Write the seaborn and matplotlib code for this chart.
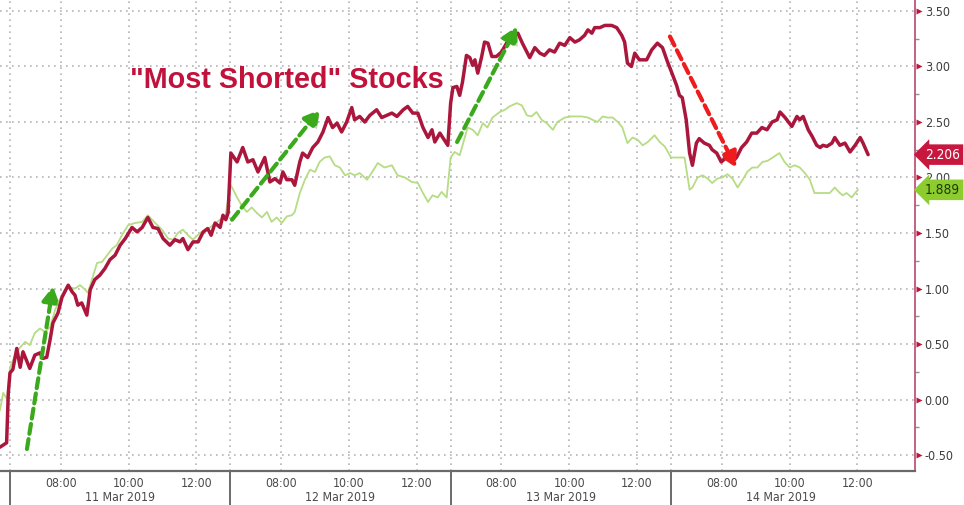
import matplotlib
matplotlib.use("Agg")
import matplotlib.pyplot as plt
import matplotlib.transforms as mtransforms
import matplotlib.patheffects as pe
import numpy as np
import pandas as pd
import seaborn as sns

# ---------------- data ----------------
days = ["11 Mar 2019", "12 Mar 2019", "13 Mar 2019", "14 Mar 2019"]
hour_labels = ["08:00", "10:00", "12:00"]
y_ticks = [-0.50, 0.00, 0.50, 1.00, 1.50, 2.00, 2.50, 3.00, 3.50]
title = '"Most Shorted" Stocks'
last_red = 2.206
last_green = 1.889

red_d1_t = ["06:12","06:24","06:27","06:30","06:35","06:42","06:48","06:53","07:05","07:14","07:23","07:28","07:35","07:41","07:46","07:55","08:02","08:13","08:20","08:25","08:30","08:37","08:46","08:52","09:00","09:09","09:18","09:27","09:36","09:45","09:54","10:06","10:15","10:24","10:34","10:43","10:52","11:01","11:13","11:22","11:31","11:36","11:45","11:54","12:03","12:12","12:20","12:26","12:33","12:42","12:47","12:52","12:56"]
red_d1_v = [-0.43,-0.39,0.06,0.24,0.27,0.46,0.29,0.43,0.28,0.40,0.42,0.37,0.38,0.54,0.69,0.78,0.92,1.03,0.97,0.94,0.85,0.87,0.76,0.99,1.08,1.12,1.18,1.26,1.30,1.39,1.45,1.55,1.51,1.55,1.64,1.55,1.54,1.45,1.39,1.44,1.42,1.45,1.35,1.42,1.42,1.51,1.54,1.48,1.59,1.55,1.66,1.62,1.68]

red_d2_t = ["06:31","06:42","06:52","07:01","07:10","07:19","07:31","07:40","07:49","07:58","08:03","08:10","08:19","08:24","08:33","08:38","08:47","08:56","09:05","09:14","09:23","09:31","09:39","09:47","09:56","10:05","10:10","10:19","10:28","10:37","10:49","10:58","11:07","11:16","11:25","11:36","11:44","11:53","12:02","12:11","12:20","12:27","12:32","12:41","12:46","12:55"]
red_d2_v = [2.22,2.14,2.27,2.14,2.16,2.05,2.18,1.96,1.99,1.95,2.05,1.98,1.98,1.93,2.14,2.22,2.18,2.27,2.32,2.41,2.54,2.45,2.49,2.41,2.50,2.63,2.52,2.55,2.50,2.56,2.61,2.54,2.56,2.58,2.55,2.61,2.64,2.58,2.58,2.45,2.36,2.43,2.32,2.40,2.36,2.29]

red_d3_t = ["06:30","06:34","06:41","06:46","06:51","06:58","07:04","07:09","07:13","07:18","07:25","07:30","07:36","07:43","07:51","08:00","08:09","08:18","08:29","08:37","08:45","08:50","08:59","09:08","09:16","09:25","09:34","09:43","09:52","10:01","10:10","10:18","10:27","10:33","10:40","10:45","10:54","11:03","11:15","11:24","11:33","11:38","11:43","11:50","11:56","12:04","12:17","12:26","12:36","12:45","12:54"]
red_d3_v = [2.67,2.81,2.82,2.74,2.86,3.10,3.08,3.01,3.06,2.94,3.09,3.22,3.21,3.09,3.09,3.13,3.21,3.26,3.30,3.21,3.13,3.08,3.17,3.12,3.10,3.15,3.13,3.21,3.19,3.26,3.22,3.24,3.28,3.33,3.30,3.35,3.35,3.37,3.37,3.35,3.28,3.22,3.03,3.00,3.12,3.06,3.06,3.15,3.21,3.17,3.04]

red_d4_t = ["06:31","06:40","06:45","06:50","06:57","07:03","07:08","07:15","07:20","07:29","07:38","07:43","07:51","07:59","08:08","08:17","08:26","08:35","08:44","08:53","09:02","09:11","09:20","09:29","09:38","09:43","09:52","10:04","10:13","10:18","10:24","10:33","10:40","10:48","10:54","10:59","11:06","11:15","11:20","11:29","11:38","11:47","11:56","12:05","12:10","12:19"]
red_d4_v = [2.95,2.83,2.74,2.72,2.52,2.22,2.11,2.31,2.35,2.31,2.29,2.25,2.22,2.14,2.18,2.14,2.18,2.27,2.32,2.40,2.40,2.45,2.43,2.50,2.52,2.59,2.54,2.46,2.55,2.52,2.55,2.43,2.37,2.29,2.27,2.29,2.28,2.31,2.36,2.29,2.31,2.23,2.29,2.36,2.31,2.206]

green_d1_t = ["06:12","06:18","06:25","06:30","06:39","06:48","06:57","07:05","07:14","07:23","07:32","07:41","07:50","07:58","08:07","08:16","08:25","08:34","08:43","08:48","08:55","09:04","09:13","09:22","09:31","09:39","09:48","09:59","10:11","10:24","10:34","10:47","10:59","11:10","11:19","11:27","11:36","11:45","11:54","12:06","12:19","12:29","12:42","12:51","12:56"]
green_d1_v = [-0.10,0.06,0.00,0.29,0.40,0.47,0.52,0.49,0.60,0.64,0.61,0.65,0.81,0.90,0.99,1.01,1.00,1.03,0.99,0.96,1.08,1.23,1.24,1.30,1.36,1.39,1.48,1.57,1.59,1.60,1.66,1.59,1.53,1.45,1.44,1.50,1.53,1.48,1.44,1.50,1.53,1.57,1.62,1.64,1.80]

green_d2_t = ["06:31","06:42","06:50","06:59","07:08","07:17","07:26","07:35","07:43","07:52","08:01","08:10","08:19","08:24","08:33","08:42","08:51","09:00","09:08","09:17","09:26","09:35","09:44","09:53","10:02","10:10","10:19","10:32","10:40","10:51","11:03","11:16","11:26","11:39","11:51","12:02","12:11","12:20","12:28","12:37","12:44","12:53"]
green_d2_v = [1.93,1.82,1.75,1.69,1.73,1.68,1.64,1.69,1.60,1.64,1.59,1.65,1.66,1.69,1.86,1.98,2.07,2.05,2.14,2.18,2.19,2.11,2.09,2.02,2.04,2.02,2.04,1.98,2.04,2.13,2.09,2.11,2.02,2.00,1.96,1.95,1.86,1.78,1.84,1.82,1.87,1.82]

green_d3_t = ["06:30","06:37","06:46","06:55","07:00","07:09","07:18","07:27","07:35","07:44","07:57","08:06","08:14","08:27","08:36","08:45","08:53","09:02","09:11","09:20","09:31","09:39","09:52","10:04","10:13","10:22","10:33","10:41","10:50","10:59","11:08","11:17","11:26","11:34","11:43","11:52","12:01","12:10","12:19","12:31","12:40","12:49","12:58"]
green_d3_v = [2.18,2.23,2.20,2.36,2.45,2.43,2.38,2.49,2.45,2.54,2.59,2.61,2.64,2.67,2.65,2.56,2.55,2.59,2.52,2.49,2.43,2.50,2.54,2.55,2.55,2.55,2.54,2.52,2.50,2.55,2.54,2.54,2.50,2.45,2.31,2.36,2.34,2.29,2.32,2.38,2.32,2.28,2.20]

green_d4_t = ["06:30","06:45","06:54","07:03","07:08","07:17","07:26","07:35","07:43","07:52","08:01","08:10","08:19","08:28","08:37","08:45","08:54","09:03","09:12","09:21","09:30","09:42","09:51","10:00","10:09","10:18","10:27","10:36","10:44","10:53","11:02","11:11","11:20","11:29","11:34","11:41","11:50","11:56","12:01"]
green_d4_v = [2.18,2.18,2.18,1.89,1.91,2.00,2.02,1.99,1.95,1.99,2.00,2.03,1.99,1.91,1.98,2.05,2.09,2.09,2.14,2.15,2.18,2.22,2.14,2.09,2.11,2.09,2.04,1.98,1.86,1.86,1.86,1.86,1.91,1.86,1.84,1.86,1.82,1.86,1.889]

# ---------------- helpers ----------------
OPEN_H, SESSION_H = 6.5, 6.5   # 06:30 - 13:00 session, compressed axis


def sess_x(day_idx, hhmm):
    h, m = hhmm.split(":")
    return day_idx * SESSION_H + (int(h) + int(m) / 60.0 - OPEN_H)


def build(name, parts):
    rows = []
    for d, (ts, vs) in enumerate(parts):
        assert len(ts) == len(vs), (name, d, len(ts), len(vs))
        for t, v in zip(ts, vs):
            rows.append({"x": sess_x(d, t), "value": v, "series": name})
    return pd.DataFrame(rows)


red_df = build("red", [(red_d1_t, red_d1_v), (red_d2_t, red_d2_v),
                       (red_d3_t, red_d3_v), (red_d4_t, red_d4_v)])
green_df = build("green", [(green_d1_t, green_d1_v), (green_d2_t, green_d2_v),
                           (green_d3_t, green_d3_v), (green_d4_t, green_d4_v)])

# ---------------- style ----------------
sns.set_theme(style="white")
plt.rcParams["font.family"] = ["DejaVu Sans"]

RED = "#ab173c"
GREEN = "#b6dc84"
GRID = "#b4b4b4"
AXIS_GREY = "#6a6a6a"

fig = plt.figure(figsize=(9.64, 5.05), dpi=100)
W, H = 964, 505
ax = fig.add_axes([0, 34 / H, 915 / W, 471 / H])

XMIN, XMAX = -0.295, 26.70
YMIN, YMAX = -0.644, 3.599
ax.set_xlim(XMIN, XMAX)
ax.set_ylim(YMIN, YMAX)

# grid (dotted)
grid_kw = dict(color=GRID, lw=1.2, linestyle=(0, (1.0, 2.6)), zorder=0)
for yv in y_ticks:
    ax.axhline(yv, **grid_kw)
for d in range(len(days)):
    ax.axvline(d * SESSION_H, **grid_kw)
    for hl in hour_labels:
        ax.axvline(sess_x(d, hl), **grid_kw)

# series
sns.lineplot(data=green_df, x="x", y="value", ax=ax, color=GREEN, lw=1.3,
             estimator=None, sort=False, zorder=3)
sns.lineplot(data=red_df, x="x", y="value", ax=ax, color=RED, lw=2.5,
             estimator=None, sort=False, zorder=4)
ax.set_xlabel("")
ax.set_ylabel("")

# spines
for s in ["top", "left"]:
    ax.spines[s].set_visible(False)
ax.spines["bottom"].set_color(AXIS_GREY)
ax.spines["bottom"].set_linewidth(1.6)
ax.spines["right"].set_color("#b8486e")
ax.spines["right"].set_linewidth(1.2)

# x ticks: every hour, labels at 08/10/12
tick_pos, tick_lab = [], []
for d in range(len(days)):
    for h in range(7, 13):
        hh = f"{h:02d}:00"
        tick_pos.append(sess_x(d, hh))
        tick_lab.append(hh if hh in hour_labels else "")
tick_pos.append(sess_x(len(days) - 1, "13:00"))
tick_lab.append("")
ax.set_xticks(tick_pos)
ax.set_xticklabels(tick_lab)
ax.tick_params(axis="x", direction="out", length=3, width=1.2, color=AXIS_GREY,
               pad=1.2, labelsize=8.8, labelcolor="#4a4a4a")
for lab in ax.get_xticklabels():
    lab.set_fontstretch("condensed")

# day separators and date labels below the axis
bt = mtransforms.blended_transform_factory(ax.transData, ax.transAxes)
for d, name in enumerate(days):
    ax.plot([d * SESSION_H, d * SESSION_H], [0, -0.075], transform=bt,
            color=AXIS_GREY, lw=1.4, clip_on=False, zorder=5)
    ax.text(d * SESSION_H + SESSION_H / 2, -0.056, name, transform=bt,
            ha="center", va="center", fontsize=8.8, color="#4a4a4a",
            fontstretch="condensed")

# right y axis
ax.yaxis.tick_right()
ax.set_yticks(y_ticks)
ax.set_yticklabels([f"{v:.2f}" for v in y_ticks])
ax.set_yticks(np.arange(-0.25, 3.6, 0.5), minor=True)
ax.tick_params(axis="y", which="major", length=0, pad=7, labelsize=9.0,
               labelcolor="#3c3c3c")
ax.tick_params(axis="y", which="minor", length=3, width=1, color="#909090",
               direction="out")
for lab in ax.get_yticklabels():
    lab.set_fontstretch("condensed")

rt = mtransforms.blended_transform_factory(ax.transAxes, ax.transData)
ax.plot(np.ones(len(y_ticks)) * 1.004, y_ticks, transform=rt, ls="none",
        marker=">", ms=5, color="#c0143c", mec="none", clip_on=False, zorder=6)

# last-value tags
for val, fc, tc in [(last_red, "#c8173f", "white"), (last_green, "#8ccc2e", "#1d3a05")]:
    ax.text(1.011, val, f"{val:.3f}", transform=rt, ha="left", va="center",
            fontsize=9.8, color=tc, fontstretch="condensed", zorder=10,
            clip_on=False,
            bbox=dict(boxstyle="larrow,pad=0.24", fc=fc, ec="none"))

# title annotation
ax.text(sess_x(0, "10:03"), 2.88, title, ha="left", va="center",
        fontsize=20.7, fontweight="bold", color="#c1123c",
        family=["Liberation Sans", "DejaVu Sans"], zorder=7)

# dashed trend arrows
shadow = [pe.SimplePatchShadow(offset=(1.5, -1.5), alpha=0.25), pe.Normal()]
arrows = [
    ((0.50, -0.446), (1.27, 1.02), "#3aaa1c"),
    ((6.55, 1.62), (9.14, 2.61), "#3aaa1c"),
    ((13.19, 2.32), (14.96, 3.36), "#3aaa1c"),
    ((19.47, 3.27), (21.42, 2.09), "#ee1c1c"),
]
for (x0, y0), (x1, y1), col in arrows:
    ax.annotate("", xy=(x1, y1), xytext=(x0, y0), zorder=8,
                arrowprops=dict(arrowstyle="-|>,head_length=0.75,head_width=0.42",
                                color=col, lw=3.0, linestyle=(0, (2.4, 1.3)),
                                shrinkA=0, shrinkB=0, path_effects=shadow))

fig.savefig("out.png", dpi=100)
